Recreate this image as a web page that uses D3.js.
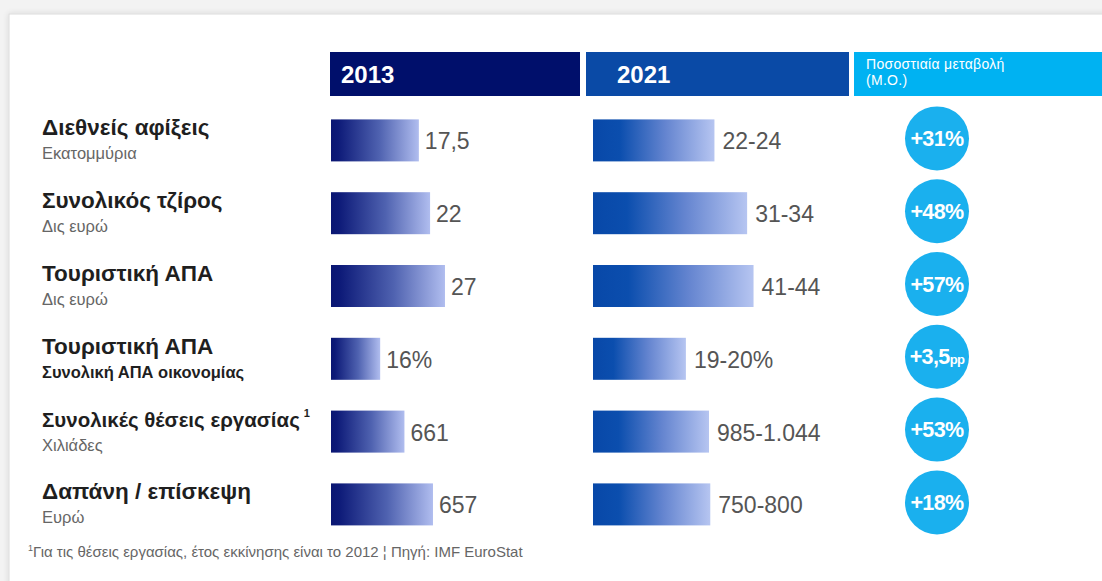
<!DOCTYPE html>
<html>
<head>
<meta charset="utf-8">
<script src="https://cdn.jsdelivr.net/npm/d3@7"></script>
<style>
  html, body { margin: 0; padding: 0; background: #f3f3f3; }
  svg { display: block; }
  text { font-family: "Liberation Sans", Arial, Helvetica, sans-serif; }
</style>
</head>
<body>
<svg id="chart" width="1102" height="581"></svg>
<script>
// Indicator rows
const categories = [
  "Διεθνείς αφίξεις",
  "Συνολικός τζίρος",
  "Τουριστική ΑΠΑ",
  "Τουριστική ΑΠΑ ",
  "Συνολικές θέσεις εργασίας",
  "Δαπάνη / επίσκεψη"
];
const subtitles = ["Εκατομμύρια", "Δις ευρώ", "Δις ευρώ", "Συνολική ΑΠΑ οικονομίας", "Χιλιάδες", "Ευρώ"];
const footnoteMark = [false, false, false, false, true, false];

// 2013 values and their labels
const values2013 = [17.5, 22, 27, 16, 661, 657];
const labels2013 = ["17,5", "22", "27", "16%", "661", "657"];

// 2021 estimated ranges [low, high] and their labels
const range2021 = [[22, 24], [31, 34], [41, 44], [19, 20], [985, 1044], [750, 800]];
const labels2021 = ["22-24", "31-34", "41-44", "19-20%", "985-1.044", "750-800"];

// Average percentage change
const changeMain = ["+31%", "+48%", "+57%", "+3,5", "+53%", "+18%"];
const changeSuffix = ["", "", "", "pp", "", ""];

// Each row is measured in its own unit, so each row gets its own value domain
const rowDomains = [[0.5, 39.2], [0.4, 44], [-14.6, 58.4], [11.5, 29.8], [0, 1800], [-296, 1573]];

const headerYears = ["2013", "2021"];
const headerChange = ["Ποσοστιαία μεταβολή", "(Μ.Ο.)"];
const footnote = "Για τις θέσεις εργασίας, έτος εκκίνησης είναι το 2012 ¦ Πηγή: IMF EuroStat";

const svg = d3.select("#chart");
const W = 1102, H = 581;

// card with soft edge
const defs = svg.append("defs");
const shadow = defs.append("filter").attr("id", "cardShadow")
  .attr("x", "-5%").attr("y", "-5%").attr("width", "110%").attr("height", "110%");
shadow.append("feGaussianBlur").attr("in", "SourceAlpha").attr("stdDeviation", 3);
shadow.append("feComponentTransfer").append("feFuncA").attr("type", "linear").attr("slope", 0.12);
const fm = shadow.append("feMerge");
fm.append("feMergeNode");
fm.append("feMergeNode").attr("in", "SourceGraphic");

svg.append("rect").attr("x", 9).attr("y", 14).attr("width", W).attr("height", H)
  .attr("fill", "#ffffff").attr("stroke", "#dcdcdc").attr("stroke-width", 1)
  .attr("filter", "url(#cardShadow)");

// gradients for the two bar series
function gradient(id, stops) {
  const g = defs.append("linearGradient").attr("id", id)
    .attr("x1", "0%").attr("x2", "100%").attr("y1", "0%").attr("y2", "0%");
  stops.forEach(s => g.append("stop").attr("offset", s[0]).attr("stop-color", s[1]));
}
gradient("grad2013", [["0%", "#0a1672"], ["8%", "#0d1a78"], ["55%", "#4f62b0"], ["100%", "#b0bdef"]]);
gradient("grad2021", [["0%", "#0848a8"], ["22%", "#0b4eae"], ["60%", "#6585d0"], ["100%", "#b6c5f1"]]);

// vertical positions of rows
const y = d3.scalePoint().domain(categories).range([138.4, 502.4]);
const barH = 42;

// per-row horizontal scales
const x13 = categories.map((c, i) => d3.scaleLinear().domain(rowDomains[i]).range([331, 531]));
const x21 = categories.map((c, i) => d3.scaleLinear().domain(rowDomains[i]).range([593, 793]));

// header boxes
const hdrY = 52, hdrH = 44;
svg.append("rect").attr("x", 330).attr("y", hdrY).attr("width", 250).attr("height", hdrH).attr("fill", "#000f6b");
svg.append("rect").attr("x", 586).attr("y", hdrY).attr("width", 263).attr("height", hdrH).attr("fill", "#0a4aa6");
svg.append("rect").attr("x", 854).attr("y", hdrY).attr("width", W - 854).attr("height", hdrH).attr("fill", "#00b2f2");

svg.append("text").attr("x", 341).attr("y", 83).text(headerYears[0])
  .attr("fill", "#fff").attr("font-weight", "bold").attr("font-size", 24);
svg.append("text").attr("x", 617).attr("y", 83).text(headerYears[1])
  .attr("fill", "#fff").attr("font-weight", "bold").attr("font-size", 24);
svg.selectAll("text.hc").data(headerChange).join("text").attr("class", "hc")
  .attr("x", 866).attr("y", (d, i) => 69 + i * 16).text(d => d)
  .attr("fill", "#fff").attr("font-size", 14).attr("letter-spacing", 0.3);

// left labels
const lab = svg.selectAll("g.lab").data(categories).join("g").attr("class", "lab")
  .attr("transform", d => `translate(42,${y(d)})`);
const titles = lab.append("text").attr("class", "tt").attr("y", -3)
  .attr("font-size", 22.5).attr("font-weight", "bold").attr("fill", "#1f1f1f")
  .text(d => d.trim());
// shrink long titles so they stay clear of the bar column
const maxTitle = 258;
titles.each(function () {
  const len = this.getComputedTextLength();
  if (len > maxTitle) d3.select(this).attr("font-size", 22.5 * maxTitle / len);
});
// footnote reference mark after the title
lab.filter((d, i) => footnoteMark[i]).each(function () {
  const t = d3.select(this).select("text.tt").node();
  const w = t.getComputedTextLength();
  d3.select(this).append("text")
    .attr("x", w + 4).attr("y", -13)
    .attr("font-size", 11).attr("font-weight", "bold").attr("fill", "#1f1f1f")
    .text("1");
});
lab.append("text").attr("y", 21)
  .attr("font-size", 16.5)
  .attr("font-weight", (d, i) => i === 3 ? "bold" : "normal")
  .attr("fill", (d, i) => i === 3 ? "#1f1f1f" : "#666")
  .text((d, i) => subtitles[i]);

// 2013 bars
svg.selectAll("rect.b13").data(categories).join("rect").attr("class", "b13")
  .attr("x", (d, i) => x13[i](rowDomains[i][0]))
  .attr("y", d => y(d) + 2 - barH / 2)
  .attr("width", (d, i) => x13[i](values2013[i]) - x13[i](rowDomains[i][0]))
  .attr("height", barH)
  .attr("fill", "url(#grad2013)");
svg.selectAll("text.v13").data(categories).join("text").attr("class", "v13")
  .attr("x", (d, i) => x13[i](values2013[i]) + 6)
  .attr("y", d => y(d) + 11)
  .attr("font-size", 23).attr("fill", "#555")
  .text((d, i) => labels2013[i]);

// 2021 bars (to the upper end of the range)
svg.selectAll("rect.b21").data(categories).join("rect").attr("class", "b21")
  .attr("x", (d, i) => x21[i](rowDomains[i][0]))
  .attr("y", d => y(d) + 2 - barH / 2)
  .attr("width", (d, i) => x21[i](range2021[i][1]) - x21[i](rowDomains[i][0]))
  .attr("height", barH)
  .attr("fill", "url(#grad2021)");
svg.selectAll("text.v21").data(categories).join("text").attr("class", "v21")
  .attr("x", (d, i) => x21[i](range2021[i][1]) + 8)
  .attr("y", d => y(d) + 11)
  .attr("font-size", 23).attr("fill", "#555")
  .text((d, i) => labels2021[i]);

// change bubbles
const bub = svg.selectAll("g.bub").data(categories).join("g").attr("class", "bub")
  .attr("transform", d => `translate(937,${y(d)})`);
bub.append("circle").attr("r", 32).attr("fill", "#1ab0ee");
const bt = bub.append("text").attr("text-anchor", "middle").attr("y", 7.5)
  .attr("fill", "#fff").attr("font-weight", "bold").attr("font-size", 21.5)
  .attr("letter-spacing", -0.6);
bt.append("tspan").text((d, i) => changeMain[i]);
bt.append("tspan").attr("font-size", 13).text((d, i) => changeSuffix[i]);

// footnote
const fn = svg.append("text").attr("x", 28).attr("y", 557).attr("font-size", 15).attr("fill", "#666");
fn.append("tspan").attr("font-size", 9).attr("dy", -6).text("1");
fn.append("tspan").attr("dy", 6).text(footnote);
</script>
</body>
</html>
